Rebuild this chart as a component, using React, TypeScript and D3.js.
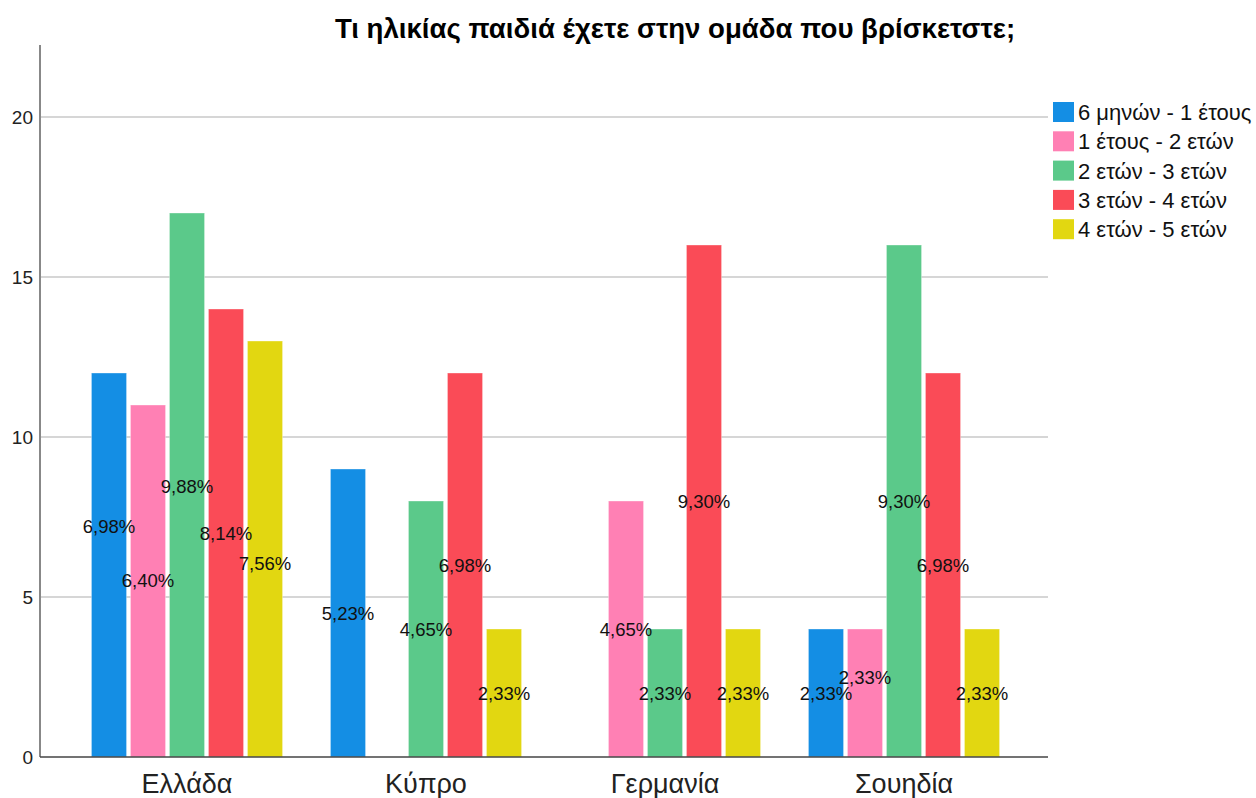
import React from "react";
import * as d3 from "d3";

const title = "Τι ηλικίας παιδιά έχετε στην ομάδα που βρίσκετστε;";
const countries = ["Ελλάδα", "Κύπρο", "Γερμανία", "Σουηδία"];
const ageGroups = ["6 μηνών - 1 έτους", "1 έτους - 2 ετών", "2 ετών - 3 ετών", "3 ετών - 4 ετών", "4 ετών - 5 ετών"];
const colors = ["#148EE4", "#FF80B4", "#5BC98A", "#FA4B57", "#E2D711"];
// counts per country, per age group
const counts = [
  [12, 11, 17, 14, 13],
  [9, 0, 8, 12, 4],
  [0, 8, 4, 16, 4],
  [4, 4, 16, 12, 4],
];
const percentLabels = [
  ["6,98%", "6,40%", "9,88%", "8,14%", "7,56%"],
  ["5,23%", "", "4,65%", "6,98%", "2,33%"],
  ["", "4,65%", "2,33%", "9,30%", "2,33%"],
  ["2,33%", "2,33%", "9,30%", "6,98%", "2,33%"],
];
// vertical position (in value units) of each percentage label
const labelAt = [
  [7.2, 5.53, 8.47, 7.0, 6.06],
  [4.5, 0, 4.0, 6.0, 2.0],
  [0, 4.0, 2.0, 8.0, 2.0],
  [2.0, 2.5, 8.0, 6.0, 2.0],
];
const yTicks = [0, 5, 10, 15, 20];

export default function App() {
  const W = 1256, H = 798;
  const font = "'Liberation Sans', Arial, sans-serif";
  const y = d3.scaleLinear().domain([0, 22.25]).range([757, 45]);
  const x0 = d3.scaleBand<string>().domain(countries).range([67.5, 1023.5]).paddingInner(0.184).paddingOuter(0.092);
  const x1 = d3.scaleBand<string>().domain(ageGroups).range([0, x0.bandwidth()]).paddingInner(0.1).paddingOuter(0.05);
  const axisLeft = 40, axisRight = 1048;

  return (
    <svg width={W} height={H} style={{ position: "absolute", left: 0, top: 0, background: "#fff" }} fontFamily={font}>
      <rect x={0} y={0} width={W} height={H} fill="#fff" />
      <text x={675} y={38} textAnchor="middle" fontSize={27.6} fontWeight="bold" fill="#000">{title}</text>
      {yTicks.filter(t => t > 0).map(t => (
        <line key={t} x1={axisLeft} x2={axisRight} y1={y(t)} y2={y(t)} stroke="#d6d6d6" strokeWidth={2} />
      ))}
      {yTicks.map(t => (
        <text key={t} x={33} y={y(t)} dy="0.36em" textAnchor="end" fontSize={19} fill="#222">{t}</text>
      ))}
      {counts.map((row, ci) => (
        <g key={ci} transform={`translate(${x0(countries[ci])},0)`}>
          {row.map((v, si) => v > 0 ? (
            <rect key={si} x={x1(ageGroups[si])} y={y(v)} width={x1.bandwidth()} height={y(0) - y(v)}
              fill={colors[si]} stroke="#ffffff" strokeOpacity={0.35} strokeWidth={1} />
          ) : null)}
        </g>
      ))}
      {counts.map((row, ci) => (
        <g key={"l" + ci} transform={`translate(${x0(countries[ci])},0)`}>
          {row.map((v, si) => v > 0 ? (
            <text key={si} x={(x1(ageGroups[si]) as number) + x1.bandwidth() / 2} y={y(labelAt[ci][si])}
              dy="0.36em" textAnchor="middle" fontSize={18.5} fill="#111">{percentLabels[ci][si]}</text>
          ) : null)}
        </g>
      ))}
      <line x1={axisLeft} x2={axisLeft} y1={45} y2={y(0)} stroke="#888" strokeWidth={2} />
      <line x1={axisLeft} x2={axisRight} y1={y(0)} y2={y(0)} stroke="#444" strokeWidth={1.5} />
      {countries.map(c => (
        <text key={c} x={(x0(c) as number) + x0.bandwidth() / 2} y={793} textAnchor="middle" fontSize={27} fill="#222">{c}</text>
      ))}
      {ageGroups.map((g, i) => (
        <g key={g} transform={`translate(1053,${102 + i * 29.3})`}>
          <rect x={0} y={0} width={21} height={20} fill={colors[i]} />
          <text x={25} y={10} dy="0.36em" fontSize={22} fill="#111">{g}</text>
        </g>
      ))}
    </svg>
  );
}
